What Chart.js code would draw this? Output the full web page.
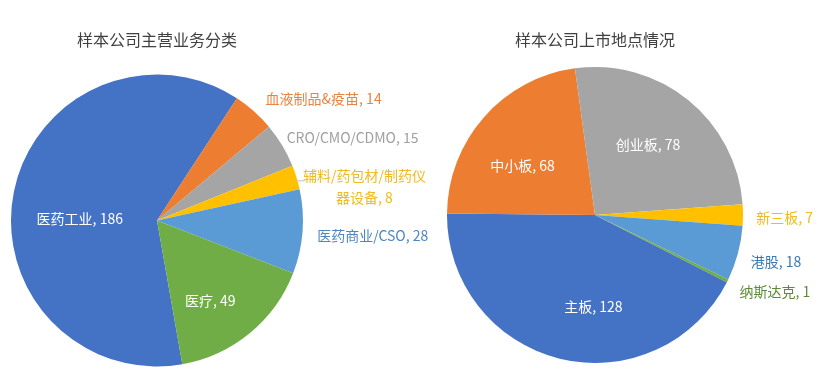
<!DOCTYPE html>
<html>
<head>
<meta charset="utf-8">
<script src="https://cdn.jsdelivr.net/npm/chart.js@4.4.1/dist/chart.umd.min.js"></script>
<style>
  body { margin: 0; background: #fff; }
  #wrap { position: relative; width: 832px; height: 385px; overflow: hidden; }
  #c1 { position: absolute; left: 0; top: 0; }
  #c2 { position: absolute; left: 416px; top: 0; }
</style>
</head>
<body>
<div id="wrap">
  <canvas id="c1" width="460" height="385"></canvas>
  <canvas id="c2" width="416" height="385"></canvas>
</div>
<script>
// left pie: main business
var bizTitle = '样本公司主营业务分类';
var bizLabels = ['医药工业', '血液制品&疫苗', 'CRO/CMO/CDMO', '辅料/药包材/制药仪器设备', '医药商业/CSO', '医疗'];
var bizValues = [186, 14, 15, 8, 28, 49];

// right pie: listing venue
var listTitle = '样本公司上市地点情况';
var listLabels = ['主板', '中小板', '创业板', '新三板', '港股', '纳斯达克'];
var listValues = [128, 68, 78, 7, 18, 1];

var sliceColors = ['#4472C4', '#ED7D31', '#A5A5A5', '#FFC000', '#5B9BD5', '#70AD47'];

var FONT = '"Noto Sans CJK SC", "Noto Sans", sans-serif';

function wrapText(ctx, text, maxW) {
  var lines = [], cur = '';
  for (var ch of text) {
    if (cur && ctx.measureText(cur + ch).width > maxW) { lines.push(cur); cur = ch; }
    else cur += ch;
  }
  if (cur) lines.push(cur);
  return lines;
}

var pieLabels = {
  id: 'pieLabels',
  afterDatasetsDraw: function(chart, args, opts) {
    var ctx = chart.ctx;
    var meta = chart.getDatasetMeta(0);
    var ds = chart.data.datasets[0];
    meta.data.forEach(function(arc, i) {
      var p = opts.place[i];
      var mid = (arc.startAngle + arc.endAngle) / 2;
      var ex = arc.x + Math.cos(mid) * arc.outerRadius;
      var ey = arc.y + Math.sin(mid) * arc.outerRadius;
      var x = arc.x + Math.cos(mid) * arc.outerRadius * p.f + (p.dx || 0);
      var y = arc.y + Math.sin(mid) * arc.outerRadius * p.f + (p.dy || 0);
      var text = chart.data.labels[i] + ', ' + ds.data[i];
      ctx.save();
      ctx.font = '14px ' + FONT;
      ctx.fillStyle = p.color;
      ctx.textAlign = p.align;
      ctx.textBaseline = 'middle';
      var lines = wrapText(ctx, text, p.maxW || 1000);
      var lh = 22;
      lines.forEach(function(ln, k) {
        ctx.fillText(ln, x, y + (k - (lines.length - 1) / 2) * lh);
      });
      if (p.leader) {
        ctx.strokeStyle = '#BFBFBF';
        ctx.lineWidth = 1;
        ctx.beginPath();
        ctx.moveTo(ex, ey + 3.5);
        ctx.lineTo(ex + 8, ey + 3.5);
        ctx.stroke();
      }
      ctx.restore();
    });
  }
};

function makePie(id, title, labels, values, pad, titlePad, place) {
  return new Chart(document.getElementById(id), {
    type: 'pie',
    data: {
      labels: labels,
      datasets: [{
        data: values,
        backgroundColor: sliceColors,
        borderWidth: 0,
        hoverOffset: 0
      }]
    },
    options: {
      responsive: false,
      animation: false,
      rotation: place.rotation,
      layout: { padding: pad },
      plugins: {
        legend: { display: false },
        tooltip: { enabled: false },
        title: {
          display: true,
          text: title,
          color: '#404040',
          font: { family: FONT, size: 16, weight: 'normal' },
          padding: titlePad
        },
        pieLabels: { place: place.items }
      }
    },
    plugins: [pieLabels]
  });
}

makePie('c1', bizTitle, bizLabels, bizValues,
  { left: 11, right: 157, top: 0, bottom: 18 },
  { top: 30, bottom: 24.8 },
  { rotation: 170, items: [
    { f: 0.54, dx: 0, dy: 14, align: 'center', color: '#ffffff' },
    { f: 1.12, dx: 0, dy: 0, align: 'left', color: '#E8843F' },
    { f: 1.06, dx: -3, dy: -3, align: 'left', color: '#A0A0A0' },
    { f: 1.0, dx: 68, dy: 9, align: 'center', color: '#F2BA1E', maxW: 130, leader: true },
    { f: 1.1, dx: 0, dy: 3, align: 'left', color: '#4F86C0' },
    { f: 0.66, dx: -8, dy: 6, align: 'center', color: '#ffffff' }
  ]});

makePie('c2', listTitle, listLabels, listValues,
  { left: 31, right: 89, top: 0, bottom: 22 },
  { top: 30, bottom: 17.8 },
  { rotation: 117, items: [
    { f: 0.61, dx: 20, dy: 4, align: 'center', color: '#ffffff' },
    { f: 0.59, dx: -7, dy: 8, align: 'center', color: '#ffffff' },
    { f: 0.59, dx: -2, dy: -2, align: 'center', color: '#ffffff' },
    { f: 1.09, dx: 0, dy: 3, align: 'left', color: '#F2BA1E' },
    { f: 1.09, dx: 0, dy: 5, align: 'left', color: '#3A78B5' },
    { f: 1.09, dx: 0, dy: 5, align: 'left', color: '#5E8A3A' }
  ]});
</script>
</body>
</html>
